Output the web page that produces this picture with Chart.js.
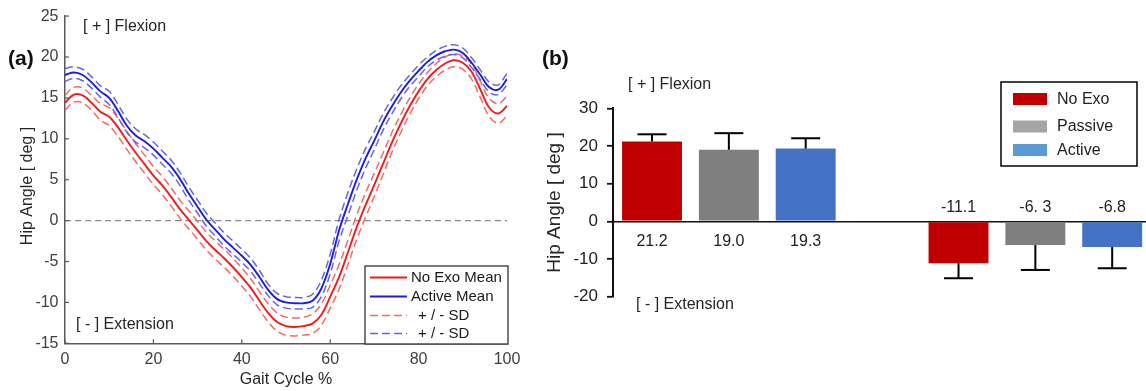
<!DOCTYPE html>
<html>
<head>
<meta charset="utf-8">
<script src="https://cdn.jsdelivr.net/npm/chart.js@4.4.1/dist/chart.umd.min.js"></script>
<style>
  html, body { margin: 0; padding: 0; background: #fff; }
  body { width: 1146px; height: 391px; position: relative; overflow: hidden; font-family: 'Liberation Sans', Arial, sans-serif; }
  #boxA { position: absolute; left: 0; top: 0; width: 530px; height: 391px; }
  #boxB { position: absolute; left: 536px; top: 0; width: 610px; height: 391px; }
  .tag { position: absolute; font-weight: bold; font-size: 21px; color: #111; line-height: 24px; }
</style>
</head>
<body>
<div id="boxA"><canvas id="gaitChart"></canvas></div>
<div id="boxB"><canvas id="peakChart"></canvas></div>
<div class="tag" style="left:8px; top:46px;">(a)</div>
<div class="tag" style="left:542px; top:46px;">(b)</div>
<script>
// (a) 보행 주기별 고관절 각도 (평균 ± SD)
const gaitPct = [0, 2, 4, 6, 8, 10, 12, 14, 16, 18, 20, 22, 24, 26, 28, 30, 32, 34, 36, 38,
  40, 42, 44, 46, 48, 50, 52, 54, 56, 58, 60, 62, 64, 66, 68, 70, 72, 74, 76, 78,
  80, 82, 84, 86, 88, 90, 92, 94, 96, 98, 100];

const noExoMean = [14.4, 15.4, 15.3, 14.4, 13.3, 12.7, 11.4, 9.8, 8.3, 6.9, 5.5, 4.3, 2.9, 1.4, 0.1, -1.2, -2.5, -3.6, -4.6, -5.7,
  -6.9, -8.2, -9.8, -11.3, -12.4, -12.9, -13.0, -12.9, -12.6, -11.5, -9.3, -6.9, -3.9, -0.8, 1.9, 4.4, 7.0, 9.6, 11.9, 14.0,
  15.8, 17.3, 18.4, 19.2, 19.6, 19.3, 18.2, 16.0, 13.8, 13.1, 14.0];
const noExoSD = [0.9, 0.9, 0.9, 0.9, 1.0, 1.1, 1.1, 1.1, 1.1, 1.1, 1.1, 1.1, 1.1, 1.1, 1.1, 1.1, 1.1, 1.1, 1.1, 1.1,
  1.1, 1.1, 1.1, 1.1, 1.1, 1.1, 1.1, 1.1, 1.2, 1.3, 1.4, 1.5, 1.5, 1.5, 1.5, 1.4, 1.3, 1.2, 1.1, 1.0,
  0.9, 0.8, 0.8, 0.8, 0.8, 0.8, 0.9, 1.0, 1.1, 1.2, 1.2];

const activeMean = [17.8, 18.1, 17.8, 16.9, 15.8, 15.0, 13.4, 11.6, 10.4, 9.7, 8.8, 7.7, 6.6, 5.1, 3.3, 1.7, 0.1, -1.1, -2.3, -3.3,
  -4.3, -5.4, -6.9, -8.5, -9.6, -10.0, -10.1, -10.1, -9.8, -8.3, -5.3, -1.2, 2.0, 5.0, 7.6, 9.8, 12.1, 14.0, 15.7, 17.1,
  18.3, 19.4, 20.2, 20.7, 20.9, 20.5, 19.3, 17.8, 16.3, 16.0, 17.3];
const activeSD = [0.8, 0.7, 0.7, 0.7, 0.7, 0.8, 0.8, 0.8, 0.8, 0.8, 0.8, 0.8, 0.8, 0.8, 0.8, 0.8, 0.8, 0.8, 0.8, 0.8,
  0.8, 0.8, 0.8, 0.7, 0.7, 0.7, 0.7, 0.7, 0.8, 1.0, 1.2, 1.3, 1.4, 1.3, 1.2, 1.1, 1.0, 0.9, 0.8, 0.7,
  0.7, 0.6, 0.6, 0.6, 0.6, 0.6, 0.6, 0.6, 0.6, 0.6, 0.7];

const gaitXTicks = [0, 20, 40, 60, 80, 100];
const gaitYTicks = [-15, -10, -5, 0, 5, 10, 15, 20, 25];

// (b) 최대 굴곡 / 최대 신전
const peakCategories = ['Peak Flexion', 'Peak Extension'];
const noExoPeak = [21.2, -11.1];
const passivePeak = [19.0, -6.3];
const activePeak = [19.3, -6.8];
const noExoPeakSD = [1.9, 4.0];
const passivePeakSD = [4.4, 6.6];
const activePeakSD = [2.75, 5.65];
const noExoPeakLabels = ['21.2', '-11.1'];
const passivePeakLabels = ['19.0', '-6. 3'];
const activePeakLabels = ['19.3', '-6.8'];
const peakYTicks = [-20, -10, 0, 10, 20, 30];

const FONT = "'Liberation Sans', Arial, sans-serif";
const RED = '#f01c1c', RED_SD = '#f36a6a';
const BLUE = '#1c1ce6', BLUE_SD = '#6464ee';

function pts(xs, ys) { return xs.map((x, i) => ({ x, y: ys[i] })); }
function shift(ys, sd, sign) { return ys.map((v, i) => v + sign * sd[i]); }

function seg(ctx, x1, y1, x2, y2) {
  ctx.beginPath(); ctx.moveTo(x1, y1); ctx.lineTo(x2, y2); ctx.stroke();
}

const gaitDecor = {
  id: 'gaitDecor',
  afterDraw(chart) {
    const { ctx, chartArea: a, scales: { x, y } } = chart;
    ctx.save();
    // 안쪽 눈금 (MATLAB 스타일)
    ctx.strokeStyle = '#5a5a5a'; ctx.lineWidth = 1.2;
    gaitXTicks.forEach(v => { const px = x.getPixelForValue(v); seg(ctx, px, a.bottom, px, a.bottom - 4); });
    gaitYTicks.forEach(v => { const py = y.getPixelForValue(v); seg(ctx, a.left, py, a.left + 4, py); });

    ctx.fillStyle = '#262626';
    ctx.font = '16px ' + FONT;
    ctx.textBaseline = 'middle';
    ctx.textAlign = 'left';
    ctx.fillText('[ + ] Flexion', 83, 26.5);
    ctx.fillText('[ - ] Extension', 76, 325);

    ctx.textAlign = 'center';
    ctx.fillText('Gait Cycle %', (a.left + a.right) / 2, 380);
    ctx.save();
    ctx.translate(27.5, 186);
    ctx.rotate(-Math.PI / 2);
    ctx.fillText('Hip Angle [ deg ]', 0, 0);
    ctx.restore();

    // 범례
    const bx = 365, by = 266, bw = 143, bh = 78;
    ctx.fillStyle = '#fff';
    ctx.fillRect(bx, by, bw, bh);
    ctx.strokeStyle = '#333'; ctx.lineWidth = 1.3;
    ctx.strokeRect(bx, by, bw, bh);
    const rows = [
      { text: 'No Exo Mean', color: RED, dash: [], tx: 411, y: 277.5 },
      { text: 'Active Mean', color: BLUE, dash: [], tx: 411, y: 296.5 },
      { text: '+ / - SD', color: RED_SD, dash: [8, 4], tx: 418, y: 315.5 },
      { text: '+ / - SD', color: BLUE_SD, dash: [8, 4], tx: 418, y: 333.5 }
    ];
    ctx.textAlign = 'left';
    ctx.font = '15px ' + FONT;
    rows.forEach(r => {
      ctx.strokeStyle = r.color; ctx.lineWidth = r.dash.length ? 1.5 : 1.8;
      ctx.setLineDash(r.dash);
      seg(ctx, 370, r.y, 407, r.y);
      ctx.setLineDash([]);
      ctx.fillStyle = '#1a1a1a';
      ctx.fillText(r.text, r.tx, r.y + 0.5);
    });
    ctx.restore();
  }
};

const lineDs = (label, data, color, width, dash, order) => ({
  label, data, borderColor: color, borderWidth: width, borderDash: dash,
  pointRadius: 0, tension: 0.35, fill: false, order
});

new Chart(document.getElementById('gaitChart'), {
  type: 'line',
  data: {
    datasets: [
      lineDs('zero', pts([0, 100], [0, 0]), '#8a8a8a', 1.3, [6, 4], 9),
      lineDs('No Exo +SD', pts(gaitPct, shift(noExoMean, noExoSD, 1)), RED_SD, 1.5, [8, 4], 5),
      lineDs('No Exo -SD', pts(gaitPct, shift(noExoMean, noExoSD, -1)), RED_SD, 1.5, [8, 4], 5),
      lineDs('Active +SD', pts(gaitPct, shift(activeMean, activeSD, 1)), BLUE_SD, 1.5, [8, 4], 4),
      lineDs('Active -SD', pts(gaitPct, shift(activeMean, activeSD, -1)), BLUE_SD, 1.5, [8, 4], 4),
      lineDs('No Exo Mean', pts(gaitPct, noExoMean), RED, 1.9, [], 2),
      lineDs('Active Mean', pts(gaitPct, activeMean), BLUE, 1.9, [], 1)
    ]
  },
  options: {
    responsive: true,
    maintainAspectRatio: false,
    animation: false,
    layout: { padding: { top: 12.6, right: 23, bottom: 0, left: 0 } },
    plugins: { legend: { display: false }, tooltip: { enabled: false } },
    scales: {
      x: {
        type: 'linear', min: 0, max: 100,
        afterBuildTicks: s => { s.ticks = gaitXTicks.map(v => ({ value: v })); },
        afterFit: s => { s.height = 47.7; },
        grid: { display: false, drawTicks: false },
        border: { display: true, color: '#5a5a5a', width: 1.5 },
        ticks: { color: '#404040', font: { family: FONT, size: 16 }, padding: 7, maxRotation: 0 }
      },
      y: {
        type: 'linear', min: -15, max: 25,
        afterBuildTicks: s => { s.ticks = gaitYTicks.map(v => ({ value: v })); },
        afterFit: s => { s.width = 65; },
        grid: { display: false, drawTicks: false },
        border: { display: true, color: '#5a5a5a', width: 1.5 },
        ticks: { color: '#404040', font: { family: FONT, size: 16 }, padding: 6.5 }
      }
    }
  },
  plugins: [gaitDecor]
});

// (b) 막대 + 오차막대
const peakDecor = {
  id: 'peakDecor',
  afterDatasetsDraw(chart) {
    const { ctx, scales: { y } } = chart;
    const sds = [noExoPeakSD, passivePeakSD, activePeakSD];
    const vals = [noExoPeak, passivePeak, activePeak];
    const labels = [noExoPeakLabels, passivePeakLabels, activePeakLabels];
    const zero = y.getPixelForValue(0);
    ctx.save();
    chart.data.datasets.forEach((ds, di) => {
      chart.getDatasetMeta(di).data.forEach((bar, j) => {
        const v = vals[di][j];
        const sign = v >= 0 ? 1 : -1;
        const capY = y.getPixelForValue(v + sign * sds[di][j]);
        ctx.strokeStyle = '#000'; ctx.lineWidth = 2;
        seg(ctx, bar.x, bar.y, bar.x, capY);
        seg(ctx, bar.x - 14.5, capY, bar.x + 14.5, capY);

        ctx.fillStyle = '#222';
        ctx.font = '16px ' + FONT;
        ctx.textAlign = 'center';
        ctx.textBaseline = 'middle';
        ctx.fillText(labels[di][j], bar.x, v >= 0 ? zero + 20.7 : zero - 13.3);
      });
    });
    ctx.restore();
  },
  afterDraw(chart) {
    const { ctx, chartArea: a } = chart;
    ctx.save();
    ctx.fillStyle = '#262626';
    ctx.font = '16px ' + FONT;
    ctx.textBaseline = 'middle';
    ctx.textAlign = 'left';
    ctx.fillText('[ + ] Flexion', 92, 85);
    ctx.fillText('[ - ] Extension', 100, 305);

    ctx.save();
    ctx.font = '19px ' + FONT;
    ctx.textAlign = 'center';
    ctx.translate(19, (a.top + a.bottom) / 2);
    ctx.rotate(-Math.PI / 2);
    ctx.fillText('Hip Angle [ deg ]', 0, 0);
    ctx.restore();

    // 범례
    ctx.fillStyle = '#fff';
    ctx.fillRect(465, 82, 136, 84);
    ctx.strokeStyle = '#111'; ctx.lineWidth = 1.6;
    ctx.strokeRect(465, 82, 136, 84);
    const rows = [
      { text: 'No Exo', color: '#c00000', y: 99 },
      { text: 'Passive', color: '#a5a5a5', y: 126.5 },
      { text: 'Active', color: '#5b9bd5', y: 150 }
    ];
    rows.forEach(r => {
      ctx.fillStyle = r.color;
      ctx.fillRect(477, r.y - 6, 34, 12);
      ctx.fillStyle = '#222';
      ctx.fillText(r.text, 521, r.y + 0.5);
    });
    ctx.restore();
  }
};

const barDs = (label, values, color) => ({
  label, data: values.map((v, i) => ({ x: i, y: v })),
  backgroundColor: color, borderWidth: 0,
  categoryPercentage: 0.752, barPercentage: 0.78
});

new Chart(document.getElementById('peakChart'), {
  type: 'bar',
  data: {
    labels: peakCategories,
    datasets: [
      barDs('No Exo', noExoPeak, '#c00000'),
      barDs('Passive', passivePeak, '#7f7f7f'),
      barDs('Active', activePeak, '#4472c4')
    ]
  },
  options: {
    responsive: true,
    maintainAspectRatio: false,
    animation: false,
    layout: { padding: { top: 108.3, right: 0, bottom: 94.3, left: 0 } },
    plugins: { legend: { display: false }, tooltip: { enabled: false } },
    scales: {
      x: {
        type: 'linear', display: false, offset: false, min: -0.378, max: 1.361,
        afterBuildTicks: s => { s.ticks = peakCategories.map((c, i) => ({ value: i })); }
      },
      y: {
        min: -20, max: 30,
        afterBuildTicks: s => { s.ticks = peakYTicks.map(v => ({ value: v })); },
        afterFit: s => { s.width = 77; },
        grid: {
          drawOnChartArea: true,
          color: c => (c.tick && c.tick.value === 0 ? '#111' : 'rgba(0,0,0,0)'),
          lineWidth: 1.6,
          drawTicks: true, tickLength: 6, tickColor: '#111', tickWidth: 1.8
        },
        border: { display: true, color: '#111', width: 2 },
        ticks: { color: '#222', font: { family: FONT, size: 17 }, padding: 9 }
      }
    }
  },
  plugins: [peakDecor]
});
</script>
</body>
</html>
